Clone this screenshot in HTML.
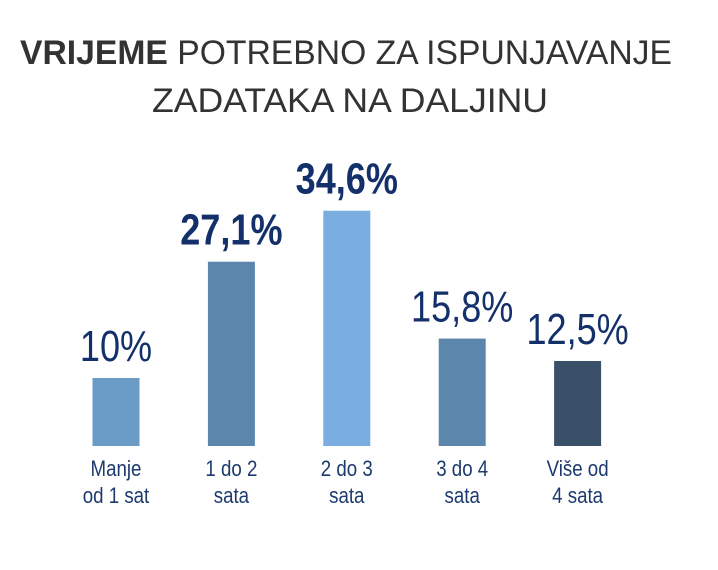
<!DOCTYPE html>
<html><head><meta charset="utf-8"><style>
body{margin:0;background:#fff;width:718px;height:565px;overflow:hidden}
svg text{font-family:"Liberation Sans",sans-serif}
</style></head><body>
<svg width="718" height="565" viewBox="0 0 718 565">
<text x="20" y="64" font-size="34" fill="#333" textLength="652" lengthAdjust="spacingAndGlyphs"><tspan font-weight="bold">VRIJEME</tspan> POTREBNO ZA ISPUNJAVANJE</text>
<text x="152" y="112" font-size="34" fill="#333" textLength="396" lengthAdjust="spacingAndGlyphs">ZADATAKA NA DALJINU</text>
<g id="bars"></g>
</svg>
<script>
const categories1=["Manje","1 do 2","2 do 3","3 do 4","Više od"];
const categories2=["od 1 sat","sata","sata","sata","4 sata"];
const values=[10,27.1,34.6,15.8,12.5];
const valueLabels=["10%","27,1%","34,6%","15,8%","12,5%"];
const boldFlags=[false,true,true,false,false];
const colors=["#6b9bc7","#5d86ad","#7aaee0","#5d86ad","#3a5068"];
const baseY=446,pxPer=6.8,x0=116,step=115.4,bw=47;
const y=v=>baseY-v*pxPer;
const xc=i=>x0+i*step;
const g=document.getElementById('bars');
const ns="http://www.w3.org/2000/svg";
values.forEach((v,i)=>{
 const r=document.createElementNS(ns,'rect');
 
 
 r.setAttribute('x',xc(i)-bw/2);r.setAttribute('y',y(v));
 r.setAttribute('width',bw);r.setAttribute('height',baseY-y(v));
 r.setAttribute('fill',colors[i]);g.appendChild(r);
 const t=document.createElementNS(ns,'text');
 
 
 t.setAttribute('x',xc(i));t.setAttribute('y',y(v)-17);
 t.setAttribute('text-anchor','middle');
 t.setAttribute('font-size','44');
 t.setAttribute('fill','#14306a');
 if(boldFlags[i])t.setAttribute('font-weight','bold');
 t.setAttribute('transform','translate('+xc(i)+' 0) scale(0.82 1) translate('+(-xc(i))+' 0)');
 t.textContent=valueLabels[i];g.appendChild(t);
 [categories1[i],categories2[i]].forEach((s,k)=>{
  const c=document.createElementNS(ns,'text');
  
  
  c.setAttribute('x',xc(i));c.setAttribute('y',476+k*27);
  c.setAttribute('text-anchor','middle');c.setAttribute('font-size','22');
  c.setAttribute('fill','#1d3a6e');
  c.setAttribute('transform','translate('+xc(i)+' 0) scale(0.85 1) translate('+(-xc(i))+' 0)');
  c.textContent=s;g.appendChild(c);
 });
});
</script>
</body></html>
